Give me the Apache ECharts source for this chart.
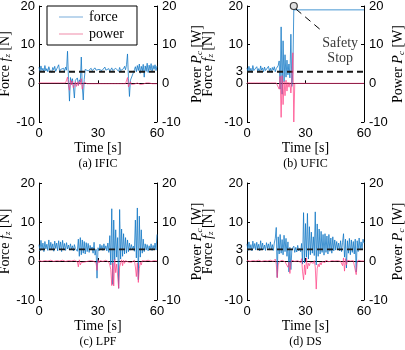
<!DOCTYPE html>
<html>
<head>
<meta charset="utf-8">
<script src="https://cdn.jsdelivr.net/npm/echarts@6/dist/echarts.min.js"></script>
<style>
html, body { margin: 0; padding: 0; background: #fff; }
#chart { width: 405px; height: 350px; }
</style>
</head>
<body>
<div id="chart"></div>
<script>
// sampling step of the recorded signals [s]
const step = 0.5
const panels = ['(a) IFIC', '(b) UFIC', '(c) LPF', '(d) DS']
const forceRef = 3
const leftTicks = [-10, 0, 3, 10, 20]
const timeRange = [0, 60]

// (a) IFIC, t = 0 .. 60
const forceIFIC = [
  4.2, 3.1, 4.5, 3.3, 3.9, 2.9, 4.6, 3.2, 3.8, 3.0,
  4.3, 3.4, 3.9, 2.8, 4.1, 3.5, 4.4, 3.1, 3.7, 3.3,
  4.8, 3.0, 3.6, 4.0, 3.2, 3.9, 3.1, 4.2, 3.4, 8.3,
  1.0, -4.6, 1.5, 0.2, 1.2, -1.0, -3.8, 0.8, 0.5, 1.4,
  -0.5, 0.9, 0.3, 6.8, -0.8, -4.3, 1.0, 3.6, 3.1, 3.8,
  3.2, 3.5, 3.0, 3.9, 3.3, 3.6, 3.1, 4.0, 3.4, 3.7,
  3.2, 3.6, 3.1, 3.9, 3.3, 3.5, 3.0, 4.2, 3.4, 3.7,
  3.2, 3.8, 3.1, 3.5, 4.0, 3.3, 3.6, 3.0, 3.9, 3.4,
  3.7, 3.1, 4.1, 3.3, 3.6, 3.2, 3.8, 4.4, 3.5, 4.8,
  7.6, 1.2, -3.4, 0.8, 1.0, 0.6, 2.8, 3.5, 4.3, 3.0,
  4.6, 3.3, 5.0, 2.6, 4.4, 3.2, 4.9, 1.6, 4.5, 3.1,
  5.2, 2.8, 4.7, 3.4, 5.1, 2.9, 4.6, 3.6, 4.8, 3.3,
  4.5
]
const powerIFIC = [
  0.1, -0.1, 0.0, 0.1, -0.1, 0.0, 0.1, 0.0, -0.1, 0.1,
  0.0, -0.2, 0.1, 0.0, -0.1, 0.1, 0.0, -0.1, 0.1, 0.0,
  -0.1, 0.1, 0.0, -0.1, 0.1, 0.0, -0.1, 0.1, 0.0, 1.6,
  -0.6, -1.8, 0.8, -0.4, 0.6, -1.2, -0.5, 0.4, -0.8, 0.3,
  -0.6, 0.5, -0.3, 1.2, -1.5, -0.4, 0.3, 0.1, 0.0, -0.1,
  0.1, 0.0, -0.1, 0.1, 0.0, -0.1, 0.1, 0.0, -0.1, 0.1,
  0.0, -0.1, 0.1, 0.0, -0.1, 0.1, 0.0, -0.1, 0.1, 0.0,
  -0.1, 0.1, 0.0, -0.1, 0.1, 0.0, -0.1, 0.1, 0.0, -0.1,
  0.1, 0.0, -0.1, 0.1, 0.0, -0.1, 0.1, 0.0, -0.1, 0.2,
  1.5, -0.9, -1.2, 0.4, -0.3, 0.2, 0.0, -0.2, 0.1, -0.3,
  0.1, -0.2, 0.0, -0.3, 0.1, -0.1, -0.2, 0.0, -0.3, 0.1,
  -0.1, -0.2, 0.1, -0.3, 0.0, -0.1, -0.2, 0.1, -0.1, 0.0,
  -0.1
]

// (b) UFIC, t = 0 .. 24, then held after the safety stop
const forceUFIC = [
  4.0, 3.0, 4.4, 3.2, 3.9, 2.8, 4.6, 3.3, 3.7, 3.1,
  4.3, 3.2, 3.8, 2.9, 4.5, 3.4, 4.0, 3.0, 4.2, 3.3,
  3.8, 3.1, 4.4, 3.2, 3.9, 2.9, 4.1, 3.4, 4.3, 3.0,
  3.8, 3.3, 4.6, 5.8, -1.5, 14.6, -2.8, 11.0, 0.4, 7.4,
  1.6, 6.0, 2.2, 5.0, 1.4, 12.7, -0.8, 3.0, 19.0
]
const powerUFIC = [
  0.1, -0.1, 0.0, 0.1, -0.1, 0.0, 0.1, -0.1, 0.0, 0.1,
  -0.1, 0.0, 0.1, -0.1, 0.0, 0.1, -0.1, 0.0, 0.1, 0.0,
  -0.1, 0.1, 0.0, -0.1, 0.1, 0.0, -0.1, 0.1, 0.0, -0.1,
  0.1, 0.0, 0.3, -1.5, 1.8, -8.8, 2.0, -5.5, 0.5, -3.2,
  0.8, -2.0, 0.3, -1.0, 0.2, -2.5, 0.5, 7.9, -10
]
const stopTime = [24.5, 60]
const stopForce = [19.0, 19.0]
const stopPower = [0, 0]
const stopMarker = [24, 20]
const stopLeader = [[25.1, 19.2], [39, 13.3]]
const stopLabelAt = [47.8, 8.5]

// (c) LPF, t = 0 .. 60
const forceLPF = [
  4.2, 2.6, 5.3, 2.9, 4.6, 2.4, 5.0, 3.1, 4.3, 2.7,
  5.4, 2.8, 4.8, 3.0, 4.4, 2.5, 5.1, 3.2, 4.6, 2.6,
  5.2, 2.9, 4.9, 2.4, 5.3, 3.0, 4.5, 2.7, 4.7, 3.1,
  4.1, 2.8, 4.4, 3.0, 3.9, 2.6, 4.2, 3.2, 3.6, 2.5,
  5.6, 1.2, 6.0, 1.6, 5.4, 2.0, 5.0, 1.8, 4.7, 2.4,
  4.5, 2.2, 4.0, 2.8, 3.6, 2.0, 4.8, 1.5, 3.0, -4.4,
  3.4, 2.6, 4.3, 2.9, 4.0, 2.7, 4.4, 3.0, 3.9, 2.6,
  4.6, 2.2, 6.5, -1.0, 13.4, -6.0, 10.5, 0.2, 8.0, 1.0,
  6.0, -7.0, 13.2, 0.5, 8.2, 1.2, 7.0, 1.8, 6.0, 2.0,
  5.4, 2.4, 4.6, 2.8, 4.2, 3.0, 3.8, 2.5, 10.5, 0.8,
  13.6, -4.8, 11.5, 1.0, 8.0, 2.0, 5.6, 2.4, 4.4, 2.8,
  4.2, 2.6, 3.9, 2.9, 4.4, 2.7, 4.0, 3.0, 4.6, 2.8,
  6.8
]
const powerLPF = [
  0.2, 0.0, 0.1, -0.1, 0.2, 0.0, 0.1, -0.1, 0.2, 0.0,
  0.1, -0.1, 0.2, 0.0, 0.1, -0.1, 0.2, 0.0, 0.1, -0.1,
  0.2, 0.0, 0.1, -0.1, 0.2, 0.0, 0.1, -0.1, 0.2, 0.0,
  0.1, -0.1, 0.2, 0.0, 0.1, -0.1, 0.2, 0.0, 0.1, -0.2,
  -1.5, 0.3, -1.0, -0.4, -0.2, 0.1, -0.3, 0.0, 0.1, -0.1,
  0.2, 0.0, 0.1, -0.1, 0.2, 0.0, -0.2, 0.1, -0.5, -2.4,
  0.3, -0.5, 0.1, 0.0, 0.2, -0.1, 0.1, 0.0, 0.2, -0.1,
  0.2, -0.3, -1.0, -2.2, -6.3, -0.5, -6.4, 0.4, -3.0, -0.8,
  -0.6, -7.0, -1.5, -2.0, 0.3, -1.2, 0.2, -0.6, 0.1, -0.2,
  0.1, -0.3, 0.2, 0.0, -0.4, 0.1, 0.0, 0.2, -1.5, -4.0,
  -0.5, -5.5, -2.0, -0.3, -1.0, 0.1, -0.3, 0.2, 0.0, 0.1,
  -0.1, 0.2, 0.0, 0.1, -0.1, 0.2, 0.0, 0.1, -0.2, 0.1,
  0.0
]

// (d) DS, t = 0 .. 60
const forceDS = [
  4.4, 2.7, 4.9, 3.0, 4.2, 2.6, 5.1, 3.2, 4.5, 2.8,
  4.8, 3.1, 4.3, 2.6, 5.2, 3.0, 4.6, 2.9, 4.1, 2.7,
  4.7, 3.2, 4.4, 2.8, 4.9, 3.0, 4.2, 2.7, 4.6, 5.8,
  8.6, -4.2, 6.2, 1.8, 6.8, 2.0, 5.5, 1.6, 6.6, 2.4,
  5.8, 1.2, 4.9, -2.8, 3.5, -2.2, 3.0, 2.6, 3.8, 2.2,
  3.5, 2.3, 4.0, 2.6, 3.2, 2.4, 4.5, -0.8, 12.4, -0.5,
  9.6, 1.0, 12.2, 0.5, 8.8, 1.6, 7.4, 2.0, 6.2, 1.4,
  12.6, -1.0, 9.5, 1.2, 8.2, 1.8, 7.6, 2.2, 6.8, 1.5,
  7.0, 2.2, 6.4, 1.8, 6.8, 2.5, 5.9, 2.0, 6.2, 2.6,
  5.4, 2.8, 5.0, 3.0, 4.6, 2.6, 5.2, 2.4, 4.8, 7.0,
  1.0, 5.6, -1.8, 5.2, 2.0, 5.8, 1.6, 5.4, 2.2, 5.0,
  1.8, 5.6, -2.8, 5.2, 2.4, 5.9, 2.8, 4.9, 3.0, 5.6,
  4.6
]
const powerDS = [
  0.2, 0.0, 0.1, -0.1, 0.2, 0.0, 0.1, -0.1, 0.2, 0.0,
  0.1, -0.1, 0.2, 0.0, 0.1, -0.1, 0.2, 0.0, 0.1, -0.1,
  0.2, 0.0, 0.1, -0.1, 0.2, 0.0, 0.1, -0.1, 0.2, 0.5,
  -0.8, -4.3, -1.0, -0.2, 0.3, -0.4, 0.2, -0.3, 0.4, -0.2,
  0.1, -0.6, -1.6, -0.3, -3.2, -0.5, 0.2, 0.0, 0.1, -0.1,
  0.2, 0.0, 0.1, -0.2, 0.3, -0.4, 0.6, -2.8, -4.8, -1.0,
  -3.5, 0.8, -2.0, -0.6, -1.2, -0.3, -0.8, 0.2, -0.6, 0.1,
  -1.5, -7.2, -2.0, -0.8, -1.5, -0.4, -1.0, -0.2, -0.6, 0.1,
  -0.4, 0.2, -0.3, 0.1, -0.2, 0.2, -0.4, 0.1, -0.2, 0.2,
  0.0, 0.2, -0.1, 0.1, 0.0, 0.2, -0.1, 0.3, -1.2, 0.8,
  -2.6, 0.6, -1.0, 0.2, -0.3, 0.1, 0.0, 0.2, -0.2, 0.1,
  -0.4, 0.5, -3.5, -0.6, 0.2, -0.2, 0.1, 0.0, 0.2, 0.1,
  0.0
]

const toPairs = vals => vals.map((v, i) => [i * step, v])
const held = (times, vals) => times.map((t, i) => [t, vals[i]])

const forceData = [
  toPairs(forceIFIC),
  toPairs(forceUFIC).concat(held(stopTime, stopForce)),
  toPairs(forceLPF),
  toPairs(forceDS)
]
const powerData = [
  toPairs(powerIFIC),
  toPairs(powerUFIC).concat(held(stopTime, stopPower)),
  toPairs(powerLPF),
  toPairs(powerDS)
]

const serif = 'Liberation Serif'
const sans = 'Liberation Sans'
const forceColor = 'rgba(10,115,195,0.75)'
const powerColor = 'rgba(255,60,130,0.7)'

// left column / right column panels sit at slightly different offsets
const grids = [
  { left: 39, top: 6, width: 118, height: 116 },
  { left: 247, top: 6, width: 117, height: 116 },
  { left: 39, top: 183, width: 118, height: 117 },
  { left: 247, top: 183, width: 117, height: 117 }
].map(g => ({ ...g, containLabel: false, outerBoundsMode: 'none' }))
const leftNameGap = [24, 32, 24, 32]
const rightNameGap = [33, 26, 33, 26]

const axisLine = { show: true, lineStyle: { color: '#000', width: 1 } }
const tickStyle = { show: true, inside: true, length: 3, lineStyle: { color: '#000' } }
const labelStyle = { color: '#000', fontFamily: sans, fontSize: 13 }

const nameRich = {
  r: { fontFamily: serif, fontSize: 14, color: '#000', lineHeight: 14 },
  i: { fontFamily: serif, fontSize: 14, fontStyle: 'italic', color: '#000', lineHeight: 14 },
  s: { fontFamily: serif, fontSize: 9, fontStyle: 'italic', color: '#000', lineHeight: 8, verticalAlign: 'bottom' }
}

const xAxes = grids.map((g, i) => ({
  type: 'value', gridIndex: i, min: timeRange[0], max: timeRange[1], interval: 30,
  axisLine, axisTick: tickStyle, splitLine: { show: false },
  axisLabel: { ...labelStyle, margin: 5 },
  name: 'Time [s]', nameLocation: 'middle', nameGap: 18,
  nameTextStyle: { fontFamily: serif, fontSize: 14, color: '#000' }
}))

const yAxes = []
grids.forEach((g, i) => {
  yAxes.push({
    type: 'value', gridIndex: i, position: 'left', min: -10, max: 20, interval: 10,
    axisLine, splitLine: { show: false },
    axisTick: { ...tickStyle, customValues: leftTicks },
    axisLabel: { ...labelStyle, margin: 4, customValues: leftTicks },
    name: '{r|Force }{i|f}{s|z}{r| [N]}', nameLocation: 'middle', nameGap: leftNameGap[i], nameRotate: 90,
    nameTextStyle: { rich: nameRich }
  })
  yAxes.push({
    type: 'value', gridIndex: i, position: 'right', min: -10, max: 20, interval: 10,
    axisLine, splitLine: { show: false }, axisTick: tickStyle,
    axisLabel: { ...labelStyle, margin: 5 },
    name: '{r|Power }{i|P}{s|c}{r| [W]}', nameLocation: 'middle', nameGap: rightNameGap[i], nameRotate: 90,
    nameTextStyle: { rich: nameRich }
  })
})

const series = []
grids.forEach((g, i) => {
  series.push({
    name: 'force', type: 'line', xAxisIndex: i, yAxisIndex: 2 * i, data: forceData[i],
    symbol: 'none', lineStyle: { color: forceColor, width: 1 }, itemStyle: { color: forceColor }
  })
  series.push({
    name: 'ref', type: 'line', xAxisIndex: i, yAxisIndex: 2 * i,
    data: [[timeRange[0], forceRef], [timeRange[1], forceRef]],
    symbol: 'none', lineStyle: { color: '#1a1a1a', width: 1.8, type: [6, 4] }
  })
  series.push({
    name: 'power', type: 'line', xAxisIndex: i, yAxisIndex: 2 * i + 1, data: powerData[i],
    symbol: 'none', lineStyle: { color: powerColor, width: 1 }, itemStyle: { color: powerColor }
  })
})

// safety stop annotation in (b)
series.push({
  name: 'stop-leader', type: 'line', xAxisIndex: 1, yAxisIndex: 2, data: stopLeader, clip: false,
  symbol: 'none', lineStyle: { color: '#000', width: 1, type: [7, 5] }, z: 5
})
series.push({
  name: 'stop-marker', type: 'scatter', xAxisIndex: 1, yAxisIndex: 2, data: [stopMarker], clip: false,
  symbol: 'circle', symbolSize: 7,
  itemStyle: { color: '#d8d8d8', borderColor: '#111', borderWidth: 1.2 }, z: 6
})
series.push({
  name: 'stop-label', type: 'scatter', xAxisIndex: 1, yAxisIndex: 2, data: [stopLabelAt], symbolSize: 0,
  label: {
    show: true, position: 'inside', formatter: 'Safety\nStop',
    fontFamily: serif, fontSize: 14, lineHeight: 15, color: '#000'
  }
})

const chart = echarts.init(document.getElementById('chart'), null, { renderer: 'canvas' })
chart.setOption({
  animation: false,
  backgroundColor: '#fff',
  grid: grids,
  xAxis: xAxes,
  yAxis: yAxes,
  legend: {
    left: 47, top: 6, orient: 'vertical',
    data: [
      { name: 'force', itemStyle: { color: '#a6c9e7' } },
      { name: 'power', itemStyle: { color: '#f4b2c6' } }
    ],
    icon: 'rect', itemWidth: 24, itemHeight: 1.5, itemGap: 3,
    padding: [4, 13, 4, 12],
    borderColor: '#000', borderWidth: 1, backgroundColor: '#fff',
    textStyle: { fontFamily: serif, fontSize: 14, color: '#000', padding: [0, 0, 0, 1] }
  },
  graphic: grids.map((g, i) => ({
    type: 'text',
    x: g.left + g.width / 2,
    y: g.top + g.height + 42,
    style: { text: panels[i], font: '12px "Liberation Serif"', fill: '#000', align: 'center', verticalAlign: 'middle' }
  })),
  series
})
</script>
</body>
</html>
